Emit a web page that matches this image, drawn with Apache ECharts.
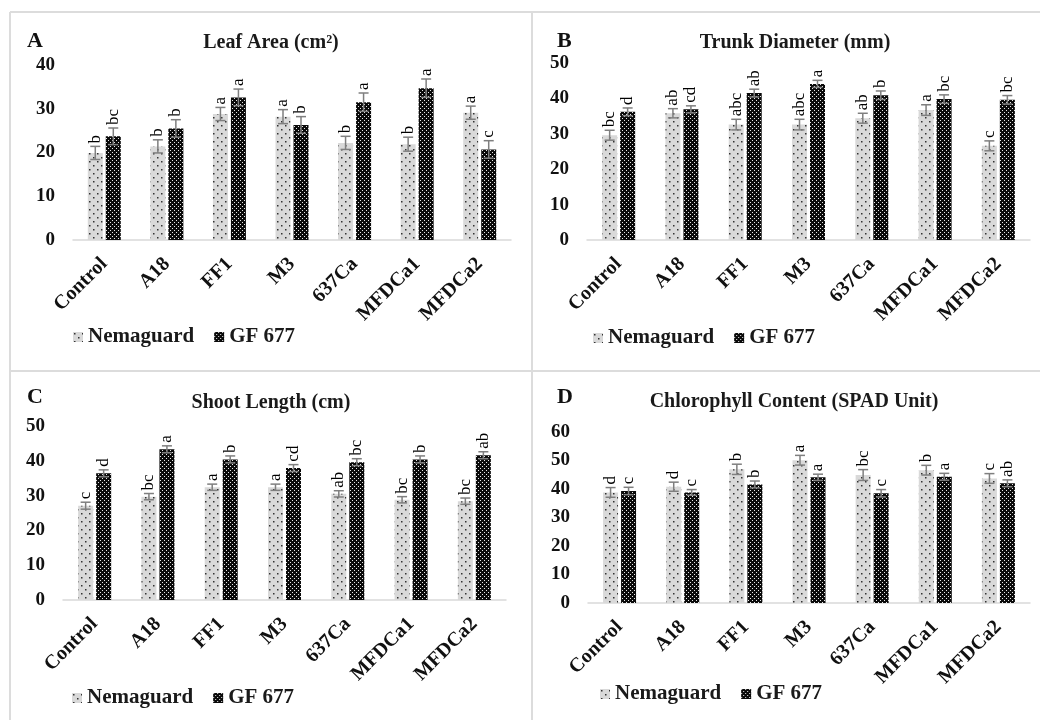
<!DOCTYPE html>
<html>
<head>
<meta charset="utf-8">
<script src="https://cdn.jsdelivr.net/npm/echarts@6/dist/echarts.min.js"></script>
<style>
html, body { margin: 0; padding: 0; background: #fff; }
#main { width: 1040px; height: 720px; }
</style>
</head>
<body>
<div id="main"></div>
<script>
const categories = ['Control', 'A18', 'FF1', 'M3', '637Ca', 'MFDCa1', 'MFDCa2'];
const seriesNames = ['Nemaguard', 'GF 677'];

// A - leaf area
const leafNema = [19.9, 21.4, 28.8, 28.2, 22.2, 21.9, 29.1];
const leafNemaErr = [1.5, 1.5, 1.5, 1.6, 1.5, 1.6, 1.5];
const leafNemaLetters = ['b', 'b', 'a', 'a', 'b', 'b', 'a'];
const leafGF = [23.7, 25.5, 32.6, 26.3, 31.5, 34.7, 20.7];
const leafGFErr = [1.9, 2.0, 1.9, 1.9, 2.1, 2.1, 2.0];
const leafGFLetters = ['bc', 'b', 'a', 'b', 'a', 'a', 'c'];

// B - trunk diameter
const trunkNema = [29.6, 35.8, 32.6, 32.6, 34.4, 36.7, 26.6];
const trunkNemaErr = [1.4, 1.3, 1.5, 1.5, 1.4, 1.5, 1.4];
const trunkNemaLetters = ['bc', 'ab', 'abc', 'abc', 'ab', 'a', 'c'];
const trunkGF = [36.2, 36.9, 41.5, 44.1, 40.9, 39.8, 39.6];
const trunkGFErr = [1.1, 1.0, 1.1, 1.0, 1.2, 1.2, 1.2];
const trunkGFLetters = ['d', 'cd', 'ab', 'a', 'b', 'bc', 'bc'];

// C - shoot length
const shootNema = [27.1, 29.7, 32.4, 32.4, 30.5, 28.8, 28.4];
const shootNemaErr = [1.0, 0.9, 0.9, 0.9, 0.9, 0.9, 0.9];
const shootNemaLetters = ['c', 'bc', 'a', 'a', 'ab', 'bc', 'bc'];
const shootGF = [36.4, 43.3, 40.4, 37.9, 39.6, 40.4, 41.6];
const shootGFErr = [1.0, 1.0, 1.0, 1.0, 1.0, 1.0, 1.0];
const shootGFLetters = ['d', 'a', 'b', 'cd', 'bc', 'b', 'ab'];

// D - chlorophyll
const chlNema = [38.8, 40.8, 46.9, 50.1, 44.9, 46.6, 43.7];
const chlNemaErr = [1.7, 1.6, 1.8, 1.7, 1.9, 1.7, 1.7];
const chlNemaLetters = ['d', 'd', 'b', 'a', 'bc', 'b', 'c'];
const chlGF = [39.3, 38.8, 41.6, 44.1, 38.5, 44.3, 42.0];
const chlGFErr = [1.3, 1.0, 1.2, 1.1, 1.3, 1.2, 1.2];
const chlGFLetters = ['c', 'c', 'b', 'a', 'c', 'a', 'ab'];

const panelLetters = ['A', 'B', 'C', 'D'];
const panelTitles = ['Leaf Area (cm\u00B2)', 'Trunk Diameter (mm)', 'Shoot Length (cm)', 'Chlorophyll Content (SPAD Unit)'];
const yMax = [40, 50, 50, 60];

const SERIF = '"Liberation Serif", "Times New Roman", serif';

function makePattern(size, bg, fg, dots, dot) {
    let c = document.createElement('canvas');
    c.width = size;
    c.height = size;
    let ctx = c.getContext('2d');
    ctx.fillStyle = bg;
    ctx.fillRect(0, 0, size, size);
    ctx.fillStyle = fg;
    for (let d of dots) {
        ctx.fillRect(d[0], d[1], dot, dot);
    }
    return { image: c, repeat: 'repeat' };
}

const nemaFill = makePattern(8, '#d9d9d9', '#333', [[1, 1], [5, 5]], 1.5);
const gfFill = makePattern(4, '#0a0a0a', '#e8e8e8', [[0, 0], [2, 2]], 1);

// panel layout: grid boxes, title/letter spots, legend spots
const grids = [
    { left: 73, top: 65, width: 438, height: 175 },
    { left: 587, top: 63, width: 443, height: 177 },
    { left: 63, top: 426, width: 443, height: 174 },
    { left: 588, top: 432, width: 442, height: 171 }
];
const titleSpots = [[271, 43], [795, 43], [271, 403], [794, 402]];
const letterSpots = [[27, 41], [557, 41], [27, 397], [557, 397]];
const legendSpots = [[73, 326], [593, 327], [72, 687], [600, 683]];

const panels = [
    [leafNema, leafNemaErr, leafNemaLetters, leafGF, leafGFErr, leafGFLetters],
    [trunkNema, trunkNemaErr, trunkNemaLetters, trunkGF, trunkGFErr, trunkGFLetters],
    [shootNema, shootNemaErr, shootNemaLetters, shootGF, shootGFErr, shootGFLetters],
    [chlNema, chlNemaErr, chlNemaLetters, chlGF, chlGFErr, chlGFLetters]
];

function errorRender(offset, letters) {
    return function (params, api) {
        let cat = api.value(0);
        let val = api.value(1);
        let err = api.value(2);
        let x = api.coord([cat, val])[0] + offset;
        let yTop = api.coord([cat, val + err])[1];
        let yBot = api.coord([cat, val - err])[1];
        let st = { stroke: '#7f7f7f', lineWidth: 1.5 };
        return {
            type: 'group',
            children: [
                { type: 'line', shape: { x1: x, y1: yTop, x2: x, y2: yBot }, style: st },
                { type: 'line', shape: { x1: x - 5, y1: yTop, x2: x + 5, y2: yTop }, style: st },
                { type: 'line', shape: { x1: x - 5, y1: yBot, x2: x + 5, y2: yBot }, style: st },
                {
                    type: 'text', x: x, y: yTop - 3, rotation: Math.PI / 2,
                    style: {
                        text: letters[params.dataIndex],
                        font: '17px ' + SERIF,
                        fill: '#000',
                        align: 'left',
                        verticalAlign: 'middle'
                    }
                }
            ]
        };
    };
}

let option = {
    animation: false,
    grid: [],
    xAxis: [],
    yAxis: [],
    legend: [],
    series: [],
    graphic: []
};

panels.forEach((p, k) => {
    option.grid.push(grids[k]);
    option.xAxis.push({
        type: 'category',
        gridIndex: k,
        data: categories,
        axisLine: { lineStyle: { color: '#d9d9d9', width: 1.5 } },
        axisTick: { show: false },
        axisLabel: {
            interval: 0, rotate: 45, margin: 21,
            fontFamily: SERIF, fontWeight: 'bold', fontSize: 20, color: '#111'
        }
    });
    option.yAxis.push({
        type: 'value',
        gridIndex: k,
        min: 0, max: yMax[k], interval: 10,
        splitLine: { show: false },
        axisLine: { show: false },
        axisTick: { show: false },
        axisLabel: { margin: 18, fontFamily: SERIF, fontWeight: 'bold', fontSize: 19, color: '#111' }
    });
    option.legend.push({
        data: seriesNames,
        left: legendSpots[k][0],
        top: legendSpots[k][1],
        padding: 0,
        icon: 'rect',
        itemWidth: 10,
        itemHeight: 10,
        itemGap: 20,
        selectedMode: false,
        textStyle: { fontFamily: SERIF, fontWeight: 'bold', fontSize: 21, color: '#1a1a1a', lineHeight: 22 }
    });
    option.series.push({
        name: 'Nemaguard', type: 'bar', xAxisIndex: k, yAxisIndex: k,
        barWidth: 15, barGap: '20%',
        itemStyle: { color: nemaFill },
        data: p[0]
    });
    option.series.push({
        name: 'GF 677', type: 'bar', xAxisIndex: k, yAxisIndex: k,
        barWidth: 15, barGap: '20%',
        itemStyle: { color: gfFill },
        data: p[3]
    });
    option.series.push({
        name: 'errN' + k, type: 'custom', xAxisIndex: k, yAxisIndex: k, z: 10,
        encode: { x: 0, y: 1 },
        renderItem: errorRender(-9, p[2]),
        data: p[0].map((v, i) => [i, v, p[1][i]])
    });
    option.series.push({
        name: 'errG' + k, type: 'custom', xAxisIndex: k, yAxisIndex: k, z: 10,
        encode: { x: 0, y: 1 },
        renderItem: errorRender(9, p[5]),
        data: p[3].map((v, i) => [i, v, p[4][i]])
    });
    option.graphic.push({
        type: 'text', x: titleSpots[k][0], y: titleSpots[k][1],
        style: {
            text: panelTitles[k], font: 'bold 20px ' + SERIF, fill: '#1a1a1a',
            align: 'center', verticalAlign: 'middle', textAlign: 'center', textVerticalAlign: 'middle'
        }
    });
    option.graphic.push({
        type: 'text', x: letterSpots[k][0], y: letterSpots[k][1],
        style: {
            text: panelLetters[k], font: 'bold 22px ' + SERIF, fill: '#111',
            align: 'left', verticalAlign: 'middle', textAlign: 'left', textVerticalAlign: 'middle'
        }
    });
});

// panel frame lines
let frame = { stroke: '#dcdcdc', lineWidth: 2 };
option.graphic.push(
    { type: 'line', shape: { x1: 10, y1: 12, x2: 1040, y2: 12 }, style: frame },
    { type: 'line', shape: { x1: 10, y1: 371, x2: 1040, y2: 371 }, style: frame },
    { type: 'line', shape: { x1: 10, y1: 12, x2: 10, y2: 720 }, style: frame },
    { type: 'line', shape: { x1: 532, y1: 12, x2: 532, y2: 720 }, style: frame }
);

var myChart = echarts.init(document.getElementById('main'));
myChart.setOption(option);
</script>
</body>
</html>
